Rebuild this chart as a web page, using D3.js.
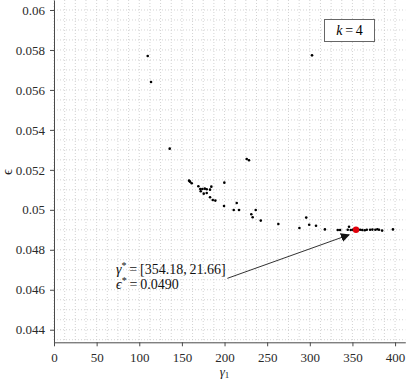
<!DOCTYPE html>
<html>
<head>
<meta charset="utf-8">
<script src="https://cdn.jsdelivr.net/npm/d3@7"></script>
<style>
  body { margin: 0; background: #fff; }
  svg text { font-family: "Liberation Serif", "Times New Roman", serif; }
</style>
</head>
<body>
<div id="chart"></div>
<script>
// values
var gamma1 = [109.9, 113.8, 135.7, 302.6, 226.0, 228.7, 158.4, 159.5, 161.5, 169.3,
  171.6, 174.0, 176.8, 179.1, 172.1, 175.6, 179.1, 183.0, 184.5, 199.8,
  183.0, 186.2, 189.2, 199.4, 214.3, 210.8, 217.0, 236.6, 231.4, 233.0,
  242.5, 263.1, 287.8, 295.8, 299.3, 307.3, 317.7, 332.8, 335.5, 344.5,
  346.0, 348.0, 350.4, 359.0, 361.5, 364.5, 366.8, 370.7, 373.4, 376.9,
  379.2, 381.2, 384.8, 397.5];
var eps = [0.05770, 0.05640, 0.05306, 0.05773, 0.05254, 0.05248, 0.05146, 0.05141, 0.05133, 0.05118,
  0.05104, 0.05104, 0.05106, 0.05103, 0.05093, 0.05081, 0.05084, 0.05101, 0.05116, 0.05136,
  0.05063, 0.05049, 0.05046, 0.05019, 0.05034, 0.04999, 0.04999, 0.04999, 0.04978, 0.04963,
  0.04946, 0.04929, 0.04909, 0.04961, 0.04925, 0.04920, 0.04902, 0.04899, 0.04899, 0.04900,
  0.04915, 0.04899, 0.04900, 0.04900, 0.04899, 0.04898, 0.04900, 0.04900, 0.04901, 0.04900,
  0.04903, 0.04900, 0.04896, 0.04902];

var best = {gamma: 354.18, eps: 0.0490};
var xTicks = [0, 50, 100, 150, 200, 250, 300, 350, 400];
var yTicks = [0.044, 0.046, 0.048, 0.05, 0.052, 0.054, 0.056, 0.058, 0.06];

// annotation anchors (data coords)
var noteFrom = {gamma: 203.3, eps: 0.04657};
var noteTo = {gamma: 346.1, eps: 0.04875};

var margin = {top: 0, right: 1.7, bottom: 41.7, left: 54},
  width = 407 - margin.left - margin.right,
  height = 384 - margin.top - margin.bottom;

var svg = d3.select("#chart").append("svg")
  .attr("width", 407)
  .attr("height", 384)
  .append("g")
    .attr("transform", "translate(" + margin.left + "," + margin.top + ")");

var x = d3.scaleLinear().domain([0, 412]).range([0, width]);
var y = d3.scaleLinear().domain([0.04337, 0.0605]).range([height, 0]);

// minor dotted grid
var gx = d3.range(0, 412, 12.5);
var gy = d3.range(0.0435, 0.0605, 0.0005);
var grid = svg.append("g")
  .attr("stroke", "#c8c8c8")
  .attr("stroke-width", 0.8)
  .attr("stroke-dasharray", "1,2");
grid.selectAll(".vx").data(gx).enter().append("line")
  .attr("x1", function(d) { return x(d); })
  .attr("x2", function(d) { return x(d); })
  .attr("y1", 0).attr("y2", height);
grid.selectAll(".hy").data(gy).enter().append("line")
  .attr("y1", function(d) { return y(d); })
  .attr("y2", function(d) { return y(d); })
  .attr("x1", 0).attr("x2", width);

// axes
var xAxis = svg.append("g")
  .attr("transform", "translate(0," + height + ")")
  .call(d3.axisBottom(x).tickValues(xTicks).tickSize(4).tickPadding(6).tickSizeOuter(0));
var yAxis = svg.append("g")
  .call(d3.axisLeft(y).tickValues(yTicks).tickSize(4).tickPadding(5).tickSizeOuter(0)
    .tickFormat(function(d) { return String(+d.toFixed(3)); }));
[xAxis, yAxis].forEach(function(a) {
  a.attr("font-family", null);
  a.select(".domain").attr("stroke", "#4a4a4a");
  a.selectAll(".tick line").attr("stroke", "#4a4a4a");
  a.selectAll(".tick text")
    .attr("fill", "#2a2a2a")
    .style("font-size", "13px");
});

// axis labels
svg.append("text")
  .attr("x", x(200)).attr("y", height + 34)
  .attr("text-anchor", "middle")
  .style("font-size", "13px")
  .attr("fill", "#222")
  .html('<tspan font-style="italic">γ</tspan><tspan font-size="9px" dy="2">1</tspan>');

svg.append("text")
  .attr("transform", "translate(" + (-42) + "," + y(0.0519) + ") rotate(-90)")
  .attr("text-anchor", "middle")
  .style("font-size", "15px")
  .attr("fill", "#222")
  .text("ϵ");

// points
svg.append("g").selectAll("circle")
  .data(gamma1)
  .enter().append("circle")
    .attr("cx", function(d) { return x(d); })
    .attr("cy", function(d, i) { return y(eps[i]); })
    .attr("r", 1.3)
    .attr("fill", "#000");

svg.append("circle")
  .attr("cx", x(best.gamma))
  .attr("cy", y(best.eps))
  .attr("r", 3.2)
  .attr("fill", "#e0000b");

// arrow annotation
svg.append("defs").append("marker")
  .attr("id", "head")
  .attr("viewBox", "0 0 10 10")
  .attr("refX", 9).attr("refY", 5)
  .attr("markerWidth", 9).attr("markerHeight", 9)
  .attr("markerUnits", "userSpaceOnUse")
  .attr("orient", "auto")
  .append("path")
    .attr("d", "M0,0 L10,5 L0,10 Z")
    .attr("fill", "#111");

svg.append("line")
  .attr("x1", x(noteFrom.gamma)).attr("y1", y(noteFrom.eps))
  .attr("x2", x(noteTo.gamma)).attr("y2", y(noteTo.eps))
  .attr("stroke", "#333")
  .attr("stroke-width", 1)
  .attr("marker-end", "url(#head)");

var note = svg.append("g").attr("fill", "#111").style("font-size", "14px");
note.append("text")
  .attr("x", 62).attr("y", 274)
  .html('<tspan font-style="italic">γ</tspan><tspan font-size="10px" dy="-5">*</tspan><tspan dy="5">&#8201;=&#8201;[' +
    best.gamma.toFixed(2) + ',&#8201;21.66]</tspan>');
note.append("text")
  .attr("x", 62).attr("y", 289)
  .html('<tspan font-style="italic">ϵ</tspan><tspan font-size="10px" dy="-5">*</tspan><tspan dy="5">&#8201;=&#8201;' +
    best.eps.toFixed(4) + '</tspan>');

// k = 4 box
var kb = svg.append("g");
kb.append("rect")
  .attr("x", 270.5).attr("y", 19.5)
  .attr("width", 50).attr("height", 22)
  .attr("fill", "#fff")
  .attr("stroke", "#666");
kb.append("text")
  .attr("x", 295.5).attr("y", 35)
  .attr("text-anchor", "middle")
  .style("font-size", "14px")
  .html('<tspan font-style="italic">k</tspan>&#8201;=&#8201;4');
</script>
</body>
</html>
